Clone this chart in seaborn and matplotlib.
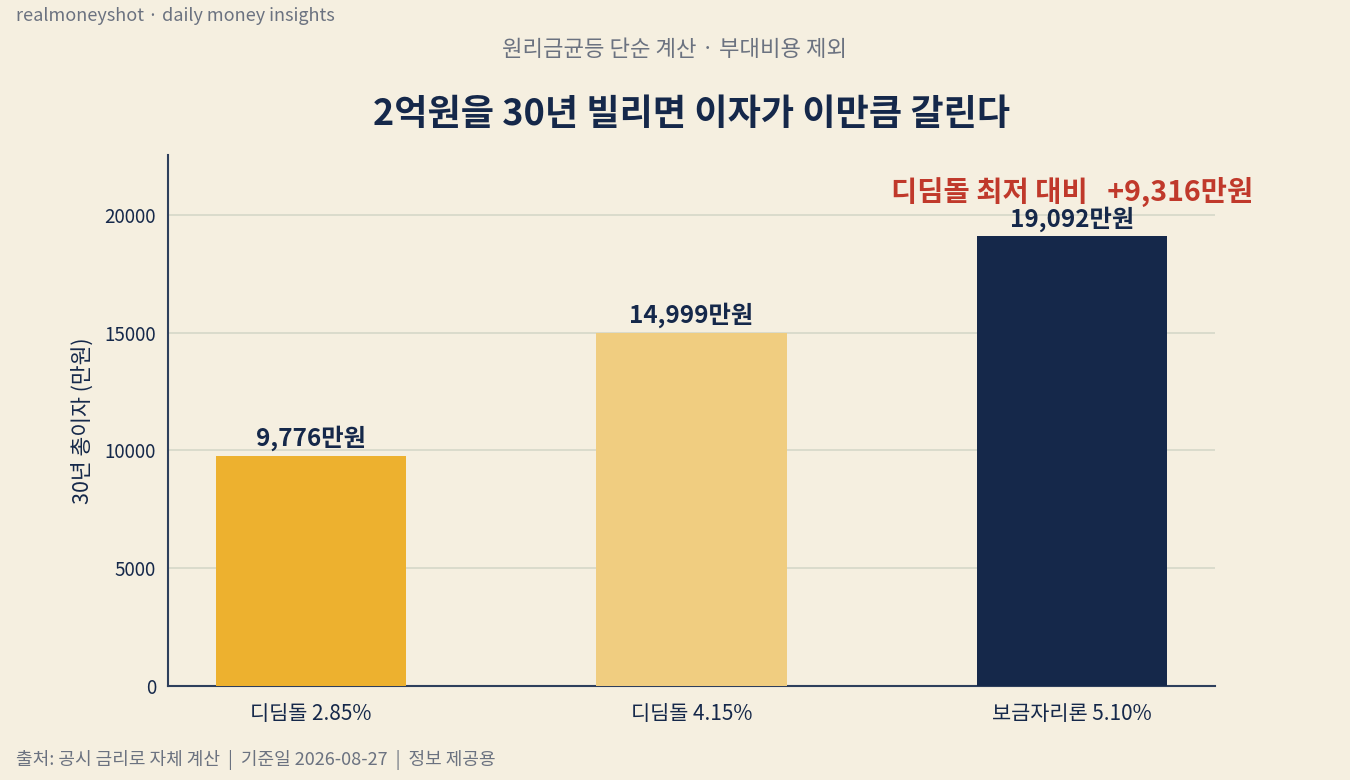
import matplotlib
matplotlib.use("Agg")
import matplotlib.pyplot as plt
import seaborn as sns
import pandas as pd

categories = ["디딤돌 2.85%", "디딤돌 4.15%", "보금자리론 5.10%"]
interest = [9776, 14999, 19092]
value_labels = ["9,776만원", "14,999만원", "19,092만원"]
bar_colors = ["#EDB12F", "#F0CD80", "#15284A"]
yticks = [0, 5000, 10000, 15000, 20000]

BG = "#F5EFE0"
NAVY = "#15284A"
GREY = "#6B7280"
RED = "#C0392B"

sns.set_theme(style="white")
plt.rcParams['font.family'] = ['Noto Sans CJK KR', 'DejaVu Sans']

df = pd.DataFrame({"cat": categories, "val": interest})

fig = plt.figure(figsize=(13.5, 7.8), dpi=100, facecolor=BG)
ax = fig.add_axes([0.1244, 0.1205, 0.7756, 0.6805])
ax.set_facecolor(BG)

sns.barplot(data=df, x="cat", y="val", hue="cat", palette=bar_colors,
            legend=False, width=0.5, ax=ax, saturation=1, zorder=3,
            linewidth=0, edgecolor="none")

ax.set_xlim(-0.375, 2.375)
ax.set_ylim(0, 22530)
ax.set_yticks(yticks)
ax.yaxis.grid(True, color="#D5D8C8", linewidth=1.2, zorder=0)
ax.set_axisbelow(True)

for s in ["top", "right"]:
    ax.spines[s].set_visible(False)
for s in ["left", "bottom"]:
    ax.spines[s].set_color("#2E3F5C")
    ax.spines[s].set_linewidth(1.5)

ax.tick_params(axis="both", colors="#2E3F5C", labelcolor=NAVY, labelsize=13.5,
               length=5, width=1.2)
ax.tick_params(axis="x", labelsize=15, pad=7)
ax.set_xlabel("")
ax.set_ylabel("30년 총이자 (만원)", fontsize=15.5, color=NAVY, labelpad=8)

for i, (v, lab) in enumerate(zip(interest, value_labels)):
    ax.text(i, v + 200, lab, ha="center", va="bottom", fontsize=17.5,
            fontweight="bold", color=NAVY)

diff = interest[2] - interest[0]
ax.text(2, 20330, f"디딤돌 최저 대비   +{diff:,}만원", ha="center", va="bottom",
        fontsize=20.5, fontweight="bold", color=RED)

ax.set_title("2억원을 30년 빌리면 이자가 이만큼 갈린다", fontsize=26,
             fontweight="bold", color=NAVY, pad=22)
fig.text(0.5, 0.936, "원리금균등 단순 계산 · 부대비용 제외", ha="center",
         va="center", fontsize=16, color=GREY)
fig.text(0.012, 0.98, "realmoneyshot · daily money insights", ha="left",
         va="center", fontsize=13, color=GREY)
fig.text(0.012, 0.025, "출처: 공시 금리로 자체 계산  |  기준일 2026-08-27  |  정보 제공용",
         ha="left", va="center", fontsize=13, color=GREY)

fig.savefig("out.png", dpi=100, facecolor=BG)
